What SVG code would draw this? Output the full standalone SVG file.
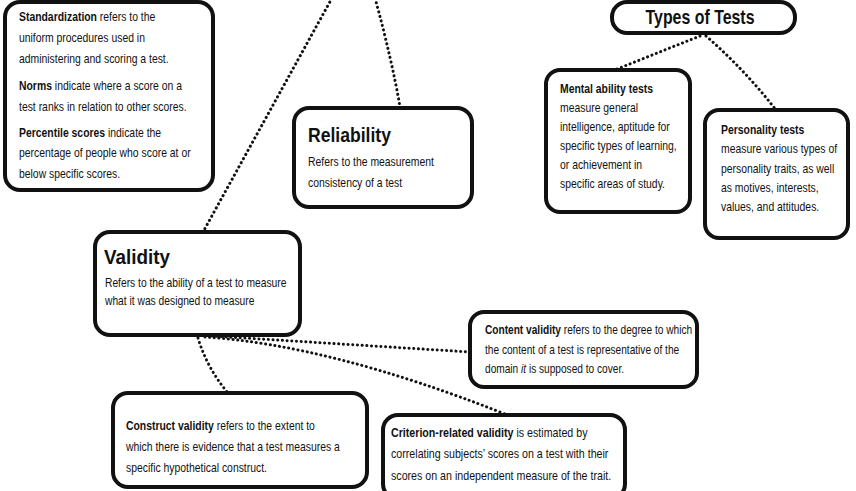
<svg xmlns="http://www.w3.org/2000/svg" width="856" height="491" viewBox="0 0 856 491">
<style>
.box{fill:#fff;stroke:#111;stroke-width:4;}
.dot{fill:none;stroke:#111;stroke-width:3;stroke-linecap:round;stroke-dasharray:0.1 4.6;}
text{font-family:"Liberation Sans",Arial,sans-serif;fill:#111;}
.t{font-size:13px;}
.h{font-size:21px;font-weight:bold;}
.b{font-weight:bold;}
.i{font-style:italic;}
</style>
<rect width="856" height="491" fill="#fff"/>
<g id="connectors">
<path class="dot" d="M332,-2 L203,232"/>
<path class="dot" d="M375,-2 Q392,60 400,107"/>
<path class="dot" d="M700,36 L612,71"/>
<path class="dot" d="M706,36 Q745,70 776,110"/>
<path class="dot" d="M212,336 L470,352"/>
<path class="dot" d="M205,337 Q330,345 505,414"/>
<path class="dot" d="M198,338 Q207,368 228,393"/>
</g>
<g id="standardization">
<rect class="box" x="5" y="2" width="208" height="188" rx="15"/>
<g transform="translate(19,0) scale(0.8,1)">
<text class="t" x="0" y="21"><tspan class="b">Standardization</tspan> refers to the</text>
<text class="t" x="0" y="42">uniform procedures used in</text>
<text class="t" x="0" y="63">administering and scoring a test.</text>
<text class="t" x="0" y="90"><tspan class="b">Norms</tspan> indicate where a score on a</text>
<text class="t" x="0" y="111">test ranks in relation to other scores.</text>
<text class="t" x="0" y="137"><tspan class="b">Percentile scores</tspan> indicate the</text>
<text class="t" x="0" y="157">percentage of people who score at or</text>
<text class="t" x="0" y="178">below specific scores.</text>
</g>
</g>
<g id="reliability">
<rect class="box" x="294" y="108" width="178" height="99" rx="15"/>
<text class="h" x="308" y="142" textLength="83" lengthAdjust="spacingAndGlyphs">Reliability</text>
<g transform="translate(308,0) scale(0.8,1)">
<text class="t" x="0" y="166">Refers to the measurement</text>
<text class="t" x="0" y="187">consistency of a test</text>
</g>
</g>
<g id="types">
<rect class="box" x="612" y="2" width="183" height="31" rx="15"/>
<text class="h" x="700" y="24" text-anchor="middle" textLength="109" lengthAdjust="spacingAndGlyphs">Types of Tests</text>
</g>
<g id="mental">
<rect class="box" x="546" y="70" width="144" height="142" rx="14"/>
<g transform="translate(560,0) scale(0.8,1)">
<text class="t b" x="0" y="93">Mental ability tests</text>
<text class="t" x="0" y="112">measure general</text>
<text class="t" x="0" y="131">intelligence, aptitude for</text>
<text class="t" x="0" y="150">specific types of learning,</text>
<text class="t" x="0" y="169">or achievement in</text>
<text class="t" x="0" y="188">specific areas of study.</text>
</g>
</g>
<g id="personality">
<rect class="box" x="705" y="110" width="143" height="128" rx="14"/>
<g transform="translate(721,0) scale(0.8,1)">
<text class="t b" x="0" y="134">Personality tests</text>
<text class="t" x="0" y="153">measure various types of</text>
<text class="t" x="0" y="173">personality traits, as well</text>
<text class="t" x="0" y="192">as motives, interests,</text>
<text class="t" x="0" y="211">values, and attitudes.</text>
</g>
</g>
<g id="validity">
<rect class="box" x="95" y="232" width="205" height="103" rx="15"/>
<text class="h" x="104" y="264" textLength="66" lengthAdjust="spacingAndGlyphs">Validity</text>
<g transform="translate(105,0) scale(0.79,1)">
<text class="t" x="0" y="287">Refers to the ability of a test to measure</text>
<text class="t" x="0" y="305">what it was designed to measure</text>
</g>
</g>
<g id="content">
<rect class="box" x="470" y="312" width="227" height="75" rx="14"/>
<g transform="translate(485,0) scale(0.78,1)">
<text class="t" x="0" y="334"><tspan class="b">Content validity</tspan> refers to the degree to which</text>
<text class="t" x="0" y="354">the content of a test is representative of the</text>
<text class="t" x="0" y="373">domain <tspan class="i">it</tspan> is supposed to cover.</text>
</g>
</g>
<g id="construct">
<rect class="box" x="113" y="393" width="254" height="94" rx="15"/>
<g transform="translate(126,0) scale(0.8,1)">
<text class="t" x="0" y="430"><tspan class="b">Construct validity</tspan> refers to the extent to</text>
<text class="t" x="0" y="451">which there is evidence that a test measures a</text>
<text class="t" x="0" y="472">specific hypothetical construct.</text>
</g>
</g>
<g id="criterion">
<rect class="box" x="383" y="415" width="242" height="84" rx="15"/>
<g transform="translate(391,0) scale(0.82,1)">
<text class="t" x="0" y="437"><tspan class="b">Criterion-related validity</tspan> is estimated by</text>
<text class="t" x="0" y="458">correlating subjects’ scores on a test with their</text>
<text class="t" x="0" y="480">scores on an independent measure of the trait.</text>
</g>
</g>
</svg>
